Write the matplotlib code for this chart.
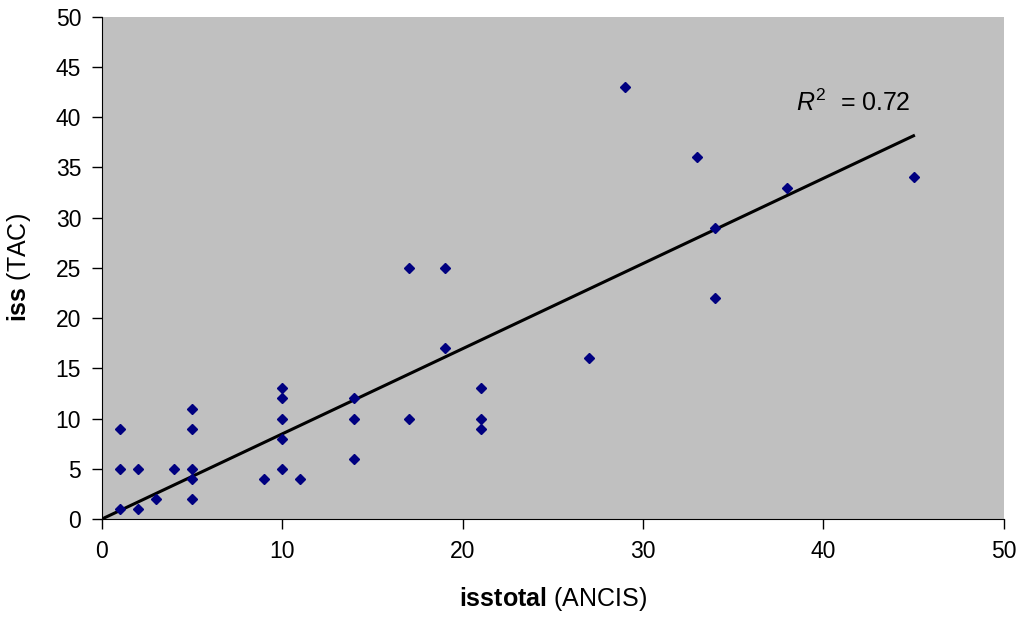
import matplotlib
matplotlib.use("Agg")
import matplotlib.pyplot as plt
import numpy as np

plt.rcParams['font.family'] = ['Liberation Sans', 'DejaVu Sans']
plt.rcParams['mathtext.fontset'] = 'custom'
plt.rcParams['mathtext.rm'] = 'Liberation Sans'
plt.rcParams['mathtext.bf'] = 'Liberation Sans:bold'
plt.rcParams['mathtext.it'] = 'Liberation Sans:italic'

# isstotal (ANCIS) vs iss (TAC)
isstotal = [1, 1, 1, 2, 2, 3, 4, 5, 5, 5, 5, 5, 9, 10, 10, 10, 10, 10, 11,
            14, 14, 14, 17, 17, 19, 19, 21, 21, 21, 27, 29, 33, 34, 34, 38, 45]
iss = [9, 5, 1, 5, 1, 2, 5, 11, 9, 5, 4, 2, 4, 13, 12, 10, 8, 5, 4,
       12, 10, 6, 25, 10, 25, 17, 13, 10, 9, 16, 43, 36, 29, 22, 33, 34]
r2_label = r'$\mathit{R}^2$  = 0.72'

fig = plt.figure(figsize=(10.2, 6.22), dpi=100)
ax = fig.add_axes([0.1, 0.1656, 0.884, 0.8074])
ax.set_facecolor('#c0c0c0')

# trend line through the origin (least squares, zero intercept)
x = np.array(isstotal, dtype=float)
y = np.array(iss, dtype=float)
k = (x * y).sum() / (x * x).sum()
xs = np.array([0, x.max()])
ax.plot(xs, k * xs, color='black', lw=2.2, zorder=2)
ax.plot(x, y, 'D', color='#000080', ms=5, zorder=3)

ax.text(38.5, 40.6, r2_label, fontsize=18, ha='left', va='baseline')

ax.set_xlim(0, 50)
ax.set_ylim(0, 50)
ax.set_xticks(range(0, 51, 10))
ax.set_yticks(range(0, 51, 5))
ax.tick_params(direction='out', length=7, width=1, labelsize=16.5, pad=8)
ax.spines['top'].set_visible(False)
ax.spines['right'].set_visible(False)
ax.set_xlabel(r'$\mathbf{isstotal}$ (ANCIS)', fontsize=18, labelpad=16)
ax.set_ylabel(r'$\mathbf{iss}$ (TAC)', fontsize=18, labelpad=16)

plt.savefig('out.png')
